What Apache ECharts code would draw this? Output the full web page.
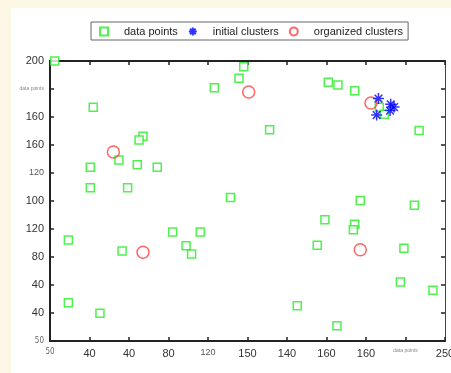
<!DOCTYPE html>
<html>
<head>
<meta charset="utf-8">
<script src="https://cdn.jsdelivr.net/npm/echarts@6/dist/echarts.min.js"></script>
<style>html,body{margin:0;padding:0;background:#fdf8e6;}#c{width:451px;height:373px;}</style>
</head>
<body>
<div id="c"></div>
<script>
// ---- data ----
const xTickLabels = ['50','40','40','80','120','150','140','160','160','data points','250'];
const yTickLabels = ['50','40','40','80','120','100','120','160','160','data points','200'];
const seriesNames = ['data points','initial clusters','organized clusters'];
const dataPoints = [
  [52.4,200.0],[71.9,166.9],[133.2,180.9],[145.7,187.6],[148.1,195.9],
  [97.1,146.2],[95.1,143.6],[84.9,129.3],[70.4,124.1],[94.2,125.9],
  [104.3,124.1],[70.4,109.5],[89.3,109.5],[141.4,102.5],[59.3,72.1],
  [86.5,64.3],[112.1,77.9],[126.1,77.9],[118.9,68.1],[121.7,62.1],
  [59.3,27.4],[75.3,19.8],[190.9,184.8],[195.8,182.9],[204.3,178.7],
  [161.2,150.9],[236.9,150.4],[216.7,167.0],[219.3,161.9],[207.1,100.4],
  [234.5,96.9],[189.2,86.6],[204.3,83.4],[203.6,79.5],[185.3,68.4],
  [229.2,66.2],[227.4,42.1],[243.9,36.2],[175.2,25.2],[195.3,10.9]
];
const initialClusters = [
  [216.3,173.2],[215.4,161.4],[222.5,169.1],[224.2,167.1],[222.2,164.6]
];
const organizedClusters = [
  [82.1,135.0],[97.1,63.4],[150.6,177.9],[212.5,170.0],[207.1,65.2]
];
// ---- chart ----
const FONT = 'Liberation Sans, Arial, sans-serif';
const chart = echarts.init(document.getElementById('c'), null, {renderer:'canvas'});
const star = 'path://M0,-10L0,10M-10,0L10,0M-7,-7L7,7M-7,7L7,-7';
const square = 'path://M0,0L10,0L10,10L0,10Z';
const xSmall = {0:'narrow', 4:'small'};
const ySmall = {0:'narrow', 6:'small'};
function fmt(labels, smallMap, min) {
  return function(v){
    const i = Math.round((v - min) / 20);
    const t = labels[i];
    if (t === undefined) return '';
    if (t === 'data points') return '{tiny|' + t + '}';
    if (smallMap[i]) return '{' + smallMap[i] + '|' + t + '}';
    return t;
  };
}
const rich = {
  tiny:{fontSize:5, color:'#888', fontFamily:FONT},
  small:{fontSize:9, color:'#555', fontFamily:FONT},
  narrow:{fontSize:8, color:'#666', fontFamily:'DejaVu Sans Condensed, Liberation Sans Narrow, sans-serif'}
};
const axisCommon = {
  type:'value', splitLine:{show:false}
};
chart.setOption({
  backgroundColor:'#fdf8e6',
  animation:false,
  graphic:[{type:'rect', left:11, top:8, shape:{width:440, height:365}, style:{fill:'#ffffff'}, z:-10, silent:true}],
  legend:{
    left:91, top:22, padding:[4,5,3,8], itemGap:10, itemWidth:14, itemHeight:8,
    borderColor:'#666', borderWidth:1, backgroundColor:'#fff',
    textStyle:{fontSize:11, color:'#222', fontFamily:FONT, padding:[0,0,0,8]},
    data:[
      {name:seriesNames[0], icon:square},
      {name:seriesNames[1], icon:star},
      {name:seriesNames[2], icon:'circle'}
    ]
  },
  grid:{left:50, top:61, width:395, height:280, containLabel:false, outerBoundsMode:'none'},
  xAxis:[
    Object.assign({}, axisCommon, {min:50, max:250, interval:20, position:'bottom',
      axisLine:{onZero:false, lineStyle:{color:'#222', width:2}},
      axisTick:{inside:true, length:4, lineStyle:{color:'#222', width:1.5}},
      axisLabel:{margin:7, fontSize:11, color:'#333', fontFamily:FONT, showMinLabel:true, showMaxLabel:true,
        formatter:fmt(xTickLabels, xSmall, 50), rich:rich}}),
    Object.assign({}, axisCommon, {min:50, max:250, interval:20, position:'top',
      axisLine:{onZero:false, lineStyle:{color:'#222', width:2}},
      axisTick:{inside:true, length:4, lineStyle:{color:'#222', width:1.5}},
      axisLabel:{show:false}})
  ],
  yAxis:[
    Object.assign({}, axisCommon, {min:0, max:200, interval:20, position:'left',
      axisLine:{onZero:false, lineStyle:{color:'#222', width:2}},
      axisTick:{inside:true, length:4, lineStyle:{color:'#222', width:1.5}},
      axisLabel:{margin:6, fontSize:11, color:'#333', fontFamily:FONT, showMinLabel:true, showMaxLabel:true,
        formatter:fmt(yTickLabels, ySmall, 0), rich:rich}}),
    Object.assign({}, axisCommon, {min:0, max:200, interval:20, position:'right',
      axisLine:{onZero:false, lineStyle:{color:'#444', width:1}},
      axisTick:{inside:true, length:4, lineStyle:{color:'#222', width:1.5}},
      axisLabel:{show:false}})
  ],
  series:[
    {name:seriesNames[0], type:'scatter', data:dataPoints, symbol:'rect', symbolSize:8,
      itemStyle:{color:'#ffffff', borderColor:'#22ee22', borderWidth:1.5}},
    {name:seriesNames[2], type:'scatter', data:organizedClusters, symbol:'circle', symbolSize:12, z:3,
      itemStyle:{color:'rgba(255,255,255,0)', borderColor:'#ff4040', borderWidth:1.5}},
    {name:seriesNames[1], type:'scatter', data:initialClusters, symbol:star, symbolSize:11, z:4,
      itemStyle:{color:'rgba(0,0,0,0)', borderColor:'#0000ff', borderWidth:1.5}}
  ]
});
</script>
</body>
</html>
